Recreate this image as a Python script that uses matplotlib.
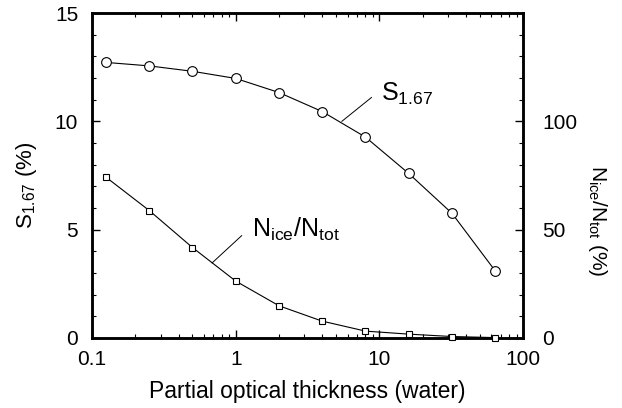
import matplotlib
matplotlib.use("Agg")
import matplotlib.pyplot as plt
from matplotlib.ticker import MultipleLocator, LogLocator, FixedLocator, FixedFormatter, NullFormatter

plt.rcParams['font.family'] = ['Liberation Sans', 'DejaVu Sans']
plt.rcParams['mathtext.default'] = 'regular'

tau = [0.125, 0.25, 0.5, 1, 2, 4, 8, 16, 32, 64]
s167 = [12.72, 12.56, 12.31, 11.98, 11.33, 10.45, 9.27, 7.59, 5.75, 3.09]
nice_ratio = [74.2, 58.8, 41.7, 26.2, 14.8, 7.7, 3.1, 1.7, 0.6, 0.1]

xticks = [0.1, 1, 10, 100]
xticklabels = ["0.1", "1", "10", "100"]
lticks = [0, 5, 10, 15]
rticks = [0, 50, 100]

fig = plt.figure(figsize=(6.22, 4.08), dpi=100)
ax = fig.add_axes([0.148, 0.172, 0.693, 0.796])
ax2 = ax.twinx()

ax.plot(tau, s167, '-', color='black', lw=0.8, marker='o', ms=7,
        mfc='white', mec='black', mew=0.8, clip_on=False, zorder=3)
ax2.plot(tau, nice_ratio, '-', color='black', lw=0.8, marker='s', ms=5,
         mfc='white', mec='black', mew=0.8, clip_on=False, zorder=3)

ax.set_xscale('log')
ax.set_xlim(0.1, 100)
ax.set_ylim(0, 15)
ax2.set_ylim(0, 150)

ax.xaxis.set_major_locator(FixedLocator(xticks))
ax.xaxis.set_major_formatter(FixedFormatter(xticklabels))
ax.xaxis.set_minor_locator(LogLocator(base=10, subs=range(2, 10)))
ax.xaxis.set_minor_formatter(NullFormatter())
ax.set_yticks(lticks)
ax.yaxis.set_minor_locator(MultipleLocator(1))
ax2.set_yticks(rticks)
ax2.yaxis.set_minor_locator(MultipleLocator(10))

ax.tick_params(which='both', direction='in', top=True, labelsize=15)
ax.tick_params(which='major', length=6, width=1)
ax.tick_params(which='minor', length=3, width=0.8)
ax.tick_params(axis='y', right=False, pad=10)
ax.tick_params(axis='x', pad=9)
ax2.tick_params(which='both', direction='in', labelsize=15, pad=14)
ax2.tick_params(which='major', length=6, width=1)
ax2.tick_params(which='minor', length=3, width=0.8)

for a in (ax, ax2):
    for sp in a.spines.values():
        sp.set_linewidth(1.8)

ax.set_xlabel('Partial optical thickness (water)', fontsize=16.5, va='center')
ax.xaxis.set_label_coords(0.5, -0.165)
ax.set_ylabel('$S_{1.67}$ (%)', fontsize=16, va='center')
ax.yaxis.set_label_coords(-0.153, 0.47)
ax2.set_ylabel('$N_{ice}/N_{tot}$ (%)', fontsize=15, rotation=-90, va='center')
ax2.yaxis.set_label_coords(1.172, 0.36)

ax.plot([5.48, 8.8], [10.0, 11.1], color='black', lw=0.7)
ax.text(10.2, 10.97, '$S_{1.67}$', fontsize=18, va='baseline', ha='left')
ax.plot([0.685, 1.1], [3.46, 4.72], color='black', lw=0.7)
ax.text(1.3, 4.65, '$N_{ice}/N_{tot}$', fontsize=18, va='baseline', ha='left')

fig.savefig('out.png', dpi=100)
